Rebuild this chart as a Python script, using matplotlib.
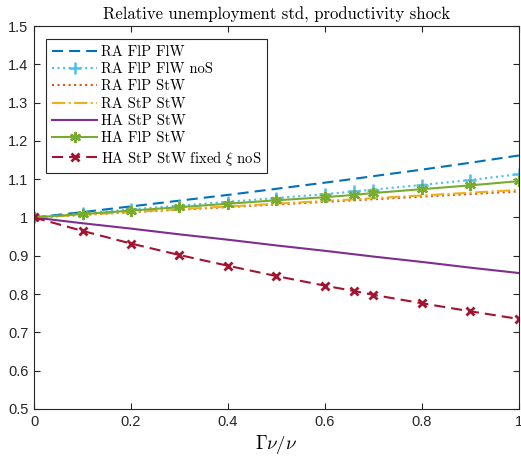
import matplotlib
matplotlib.use("Agg")
import matplotlib.pyplot as plt

plt.rcParams['mathtext.fontset'] = 'cm'
plt.rcParams['axes.formatter.use_mathtext'] = True

x = [0, 0.1, 0.2, 0.3, 0.4, 0.5, 0.6, 0.66, 0.7, 0.8, 0.9, 1.0]
ra_flp_flw = [1.0, 1.014, 1.029, 1.044, 1.059, 1.075, 1.091, 1.101, 1.108, 1.125, 1.143, 1.162]
ra_flp_flw_nos = [1.0, 1.011, 1.021, 1.031, 1.041, 1.051, 1.061, 1.068, 1.073, 1.085, 1.098, 1.113]
ra_flp_stw = [1.0, 1.0068, 1.0136, 1.0204, 1.0272, 1.034, 1.0408, 1.0449, 1.0476, 1.0544, 1.0612, 1.068]
ra_stp_stw = [1.0, 1.0072, 1.0144, 1.0216, 1.0288, 1.036, 1.0432, 1.0475, 1.0504, 1.0576, 1.0648, 1.072]
ha_stp_stw = [1.0, 0.985, 0.971, 0.956, 0.942, 0.927, 0.913, 0.904, 0.898, 0.884, 0.869, 0.855]
ha_flp_stw = [1.0, 1.009, 1.018, 1.027, 1.036, 1.045, 1.053, 1.059, 1.064, 1.074, 1.084, 1.095]
ha_fixed_xi = [1.0, 0.965, 0.932, 0.902, 0.874, 0.847, 0.822, 0.808, 0.798, 0.776, 0.755, 0.735]

labels = ['RA FlP FlW', 'RA FlP FlW noS', 'RA FlP StW', 'RA StP StW',
          'HA StP StW', 'HA FlP StW', r'HA StP StW fixed $\xi$ noS']

c_blue = (0, 0.447, 0.741)
c_lblue = (0.301, 0.745, 0.933)
c_orange = (0.85, 0.325, 0.098)
c_yellow = (0.929, 0.694, 0.125)
c_purple = (0.494, 0.184, 0.556)
c_green = (0.466, 0.674, 0.188)
c_dred = (0.635, 0.078, 0.184)

fig = plt.figure(figsize=(5.21, 4.61), dpi=100)
ax = fig.add_axes([0.0653, 0.1128, 0.9307, 0.8308])

lw = 1.5
ax.plot(x, ra_flp_flw, color=c_blue, lw=lw, dashes=(5.3, 2.9), label=labels[0])
ax.plot(x, ra_flp_flw_nos, color=c_lblue, lw=lw, ls=':', marker='+', ms=9, mew=1.8, label=labels[1])
ax.plot(x, ra_flp_stw, color=c_orange, lw=lw, ls=':', label=labels[2])
ax.plot(x, ra_stp_stw, color=c_yellow, lw=lw, ls='-.', label=labels[3])
ax.plot(x, ha_stp_stw, color=c_purple, lw=lw, ls='-', label=labels[4])
ax.plot(x, ha_flp_stw, color=c_green, lw=lw, ls='-', marker=(6, 2, 0), ms=8, mew=1.6, label=labels[5])
ax.plot(x, ha_fixed_xi, color=c_dred, lw=lw, dashes=(5.3, 2.9), marker='x', ms=6, mew=2, label=labels[6])

ax.set_xlim(0, 1)
ax.set_ylim(0.5, 1.5)
ax.set_xticks([0, 0.2, 0.4, 0.6, 0.8, 1])
ax.set_xticklabels(['0', '0.2', '0.4', '0.6', '0.8', '1'])
ax.set_yticks([0.5, 0.6, 0.7, 0.8, 0.9, 1.0, 1.1, 1.2, 1.3, 1.4, 1.5])
ax.set_yticklabels(['0.5', '0.6', '0.7', '0.8', '0.9', '1', '1.1', '1.2', '1.3', '1.4', '1.5'])

axc = (0.15, 0.15, 0.15)
for s in ax.spines.values():
    s.set_color(axc)
    s.set_linewidth(0.8)
ax.tick_params(direction='in', top=True, right=True, length=4, width=0.8, color=axc,
               labelcolor=axc, labelsize=10.5, pad=4)
for lab in ax.get_xticklabels() + ax.get_yticklabels():
    lab.set_family('Liberation Sans')

ax.set_title('Relative unemployment std, productivity shock', family='cmr10', fontsize=12, pad=5)
ax.set_xlabel(r'$\Gamma\nu/\nu$', fontsize=13.5, labelpad=3)

leg = ax.legend(loc='upper left', bbox_to_anchor=(0.0255, 0.965), fancybox=False, framealpha=1,
                edgecolor=axc, handlelength=3.1, handletextpad=0.25, labelspacing=0.24,
                borderpad=0.4, borderaxespad=0, prop={'family': 'cmr10', 'size': 10.5})
leg.get_frame().set_linewidth(0.8)

fig.savefig('out.png', dpi=100)
